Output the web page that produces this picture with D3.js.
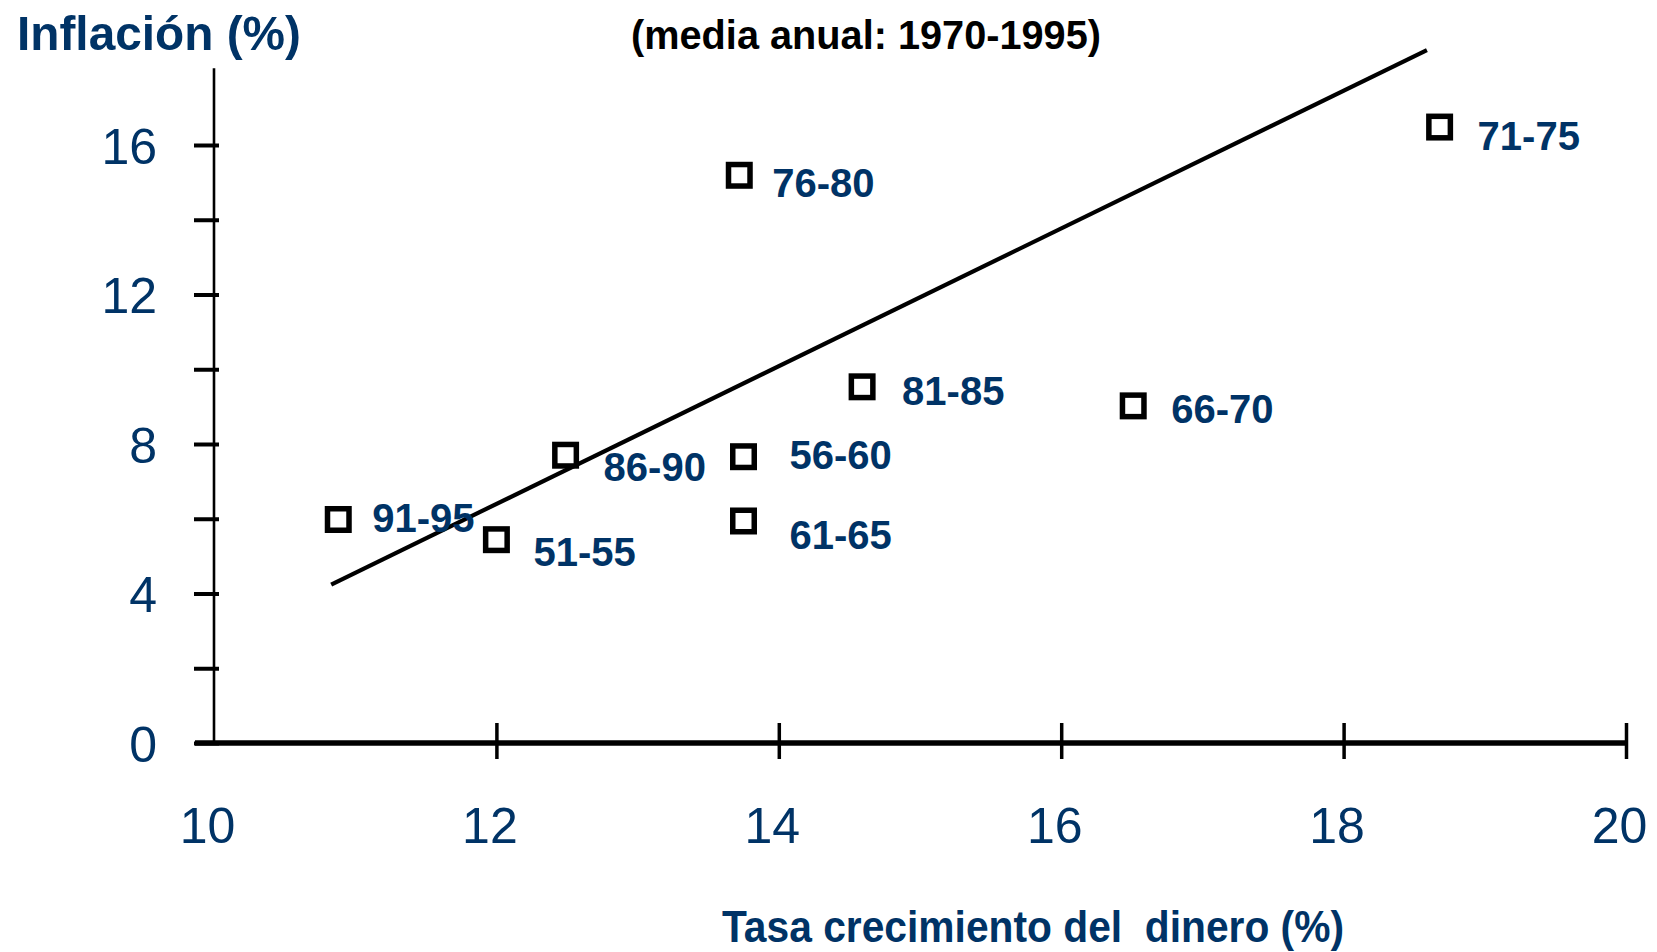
<!DOCTYPE html>
<html>
<head>
<meta charset="utf-8">
<script src="https://cdn.jsdelivr.net/npm/d3@7"></script>
<style>
  html, body { margin: 0; padding: 0; background: #fff; }
  svg { display: block; }
  text { font-family: "Liberation Sans", Arial, Helvetica, sans-serif; }
</style>
</head>
<body>
<div id="chart"></div>
<script>
// ---- data ----
const periods   = ["51-55", "56-60", "61-65", "66-70", "71-75", "76-80", "81-85", "86-90", "91-95"];
const moneyGrowth = [12.00, 13.75, 13.75, 16.51, 18.68, 13.72, 14.59, 12.49, 10.88];
const inflation   = [5.44, 7.66, 5.94, 9.02, 16.48, 15.19, 9.53, 7.70, 5.98];
// label offsets (px) from the marker: [dx, dy]
const labelOffsets = [[37, 26], [46, 12], [46, 28], [38, 17], [38, 23], [33, 22], [40, 18], [38, 26], [34, 13]];
// fitted line end points (x, y)
const trendX = [10.83, 18.59];
const trendY = [4.24, 18.54];
const xTickValues = [10, 12, 14, 16, 18, 20];
const yTickValues = [0, 2, 4, 6, 8, 10, 12, 14, 16];
const yLabelValues = [0, 4, 8, 12, 16];
const titleText = "Inflación (%)";
const subtitleText = "(media anual: 1970-1995)";
const xTitleText = "Tasa crecimiento del  dinero (%)";

// ---- layout ----
const W = 1657, H = 952;
const NAVY = "#003366";
const svg = d3.select("#chart").append("svg").attr("width", W).attr("height", H);

const x = d3.scaleLinear().domain([10, 20]).range([214, 1626]);
const y = d3.scaleLinear().domain([0, 18]).range([743, 70.25]);

// title / subtitle
svg.append("text").attr("x", 17).attr("y", 50)
  .attr("font-size", 49).attr("font-weight", "bold").attr("fill", NAVY)
  .attr("textLength", 284).attr("lengthAdjust", "spacingAndGlyphs").text(titleText);
svg.append("text").attr("x", 866).attr("y", 49).attr("text-anchor", "middle")
  .attr("font-size", 41).attr("font-weight", "bold").attr("fill", "#000")
  .attr("textLength", 470).attr("lengthAdjust", "spacingAndGlyphs").text(subtitleText);

// y axis
const yAxisG = svg.append("g").attr("transform", `translate(${x(10)},0)`)
  .call(d3.axisLeft(y).tickValues(yTickValues).tickSize(20).tickSizeOuter(0)
    .tickFormat(d => yLabelValues.includes(d) ? d : ""));
yAxisG.select(".domain").attr("stroke", "#000").attr("stroke-width", 2.6)
  .attr("d", `M0,${y(0) + 2}V${y(18) - 2}`);
yAxisG.selectAll(".tick line").attr("stroke", "#000").attr("stroke-width", 4).attr("x1", -20).attr("x2", 5);
yAxisG.selectAll(".tick text").attr("x", -57).attr("dy", "0.36em")
  .attr("font-size", 50).attr("fill", NAVY)
  .style("font-family", '"Liberation Sans", Arial, sans-serif');

// x axis
const xAxisG = svg.append("g").attr("transform", `translate(0,${y(0)})`)
  .call(d3.axisBottom(x).tickValues(xTickValues).tickSize(20).tickSizeOuter(0).tickFormat(d3.format("d")));
xAxisG.select(".domain").attr("stroke", "#000").attr("stroke-width", 5.5)
  .attr("d", `M${x(10) - 19},0H${x(20)}`);
xAxisG.selectAll(".tick line").attr("stroke", "#000").attr("stroke-width", 3.5)
  .attr("y1", -20).attr("y2", 16)
  .attr("display", d => d === 10 ? "none" : null);
xAxisG.selectAll(".tick text").attr("y", 100).attr("dy", 0).attr("dx", -7)
  .attr("font-size", 50).attr("fill", NAVY)
  .style("font-family", '"Liberation Sans", Arial, sans-serif');

// x axis title
svg.append("text").attr("x", 722).attr("y", 942)
  .attr("font-size", 44).attr("font-weight", "bold").attr("fill", NAVY)
  .attr("xml:space", "preserve").style("white-space", "pre")
  .attr("textLength", 622).attr("lengthAdjust", "spacingAndGlyphs")
  .text(xTitleText);

// trend line
const line = d3.line().x(d => x(d[0])).y(d => y(d[1]));
svg.append("path").datum(d3.zip(trendX, trendY))
  .attr("d", line).attr("fill", "none").attr("stroke", "#000").attr("stroke-width", 4.2);

// points
const pts = periods.map((p, i) => ({ p, xv: moneyGrowth[i], yv: inflation[i], off: labelOffsets[i] }));
const side = 21.5;
svg.append("g").selectAll("rect").data(pts).join("rect")
  .attr("x", d => x(d.xv) - side / 2).attr("y", d => y(d.yv) - side / 2)
  .attr("width", side).attr("height", side)
  .attr("fill", "#fff").attr("stroke", "#000").attr("stroke-width", 5.5);

svg.append("g").selectAll("text").data(pts).join("text")
  .attr("x", d => x(d.xv) + d.off[0]).attr("y", d => y(d.yv) + d.off[1])
  .attr("font-size", 40).attr("font-weight", "bold").attr("fill", NAVY)
  .text(d => d.p);
</script>
</body>
</html>
